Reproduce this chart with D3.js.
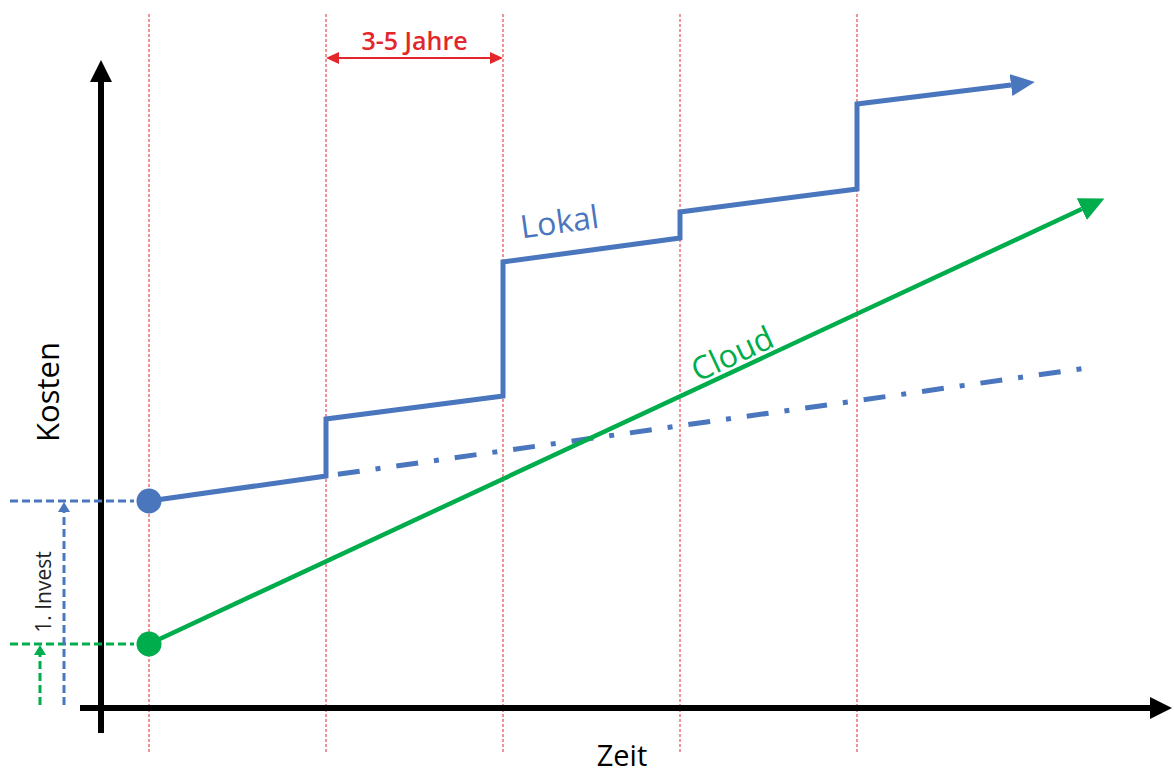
<!DOCTYPE html>
<html><head><meta charset="utf-8">
<script src="https://cdn.jsdelivr.net/npm/d3@7"></script>
<style>html,body{margin:0;padding:0;background:#fff;}svg{display:block;}</style>
</head><body>
<svg id="c" width="1174" height="776"></svg>
<script>
// ---- data (time in periods, cost in arbitrary units) ----
const periods = [0, 1, 2, 3, 4];                      // red dotted replacement cycles
const lokalT    = [0, 1, 1, 2, 2, 3, 3, 4, 4, 4.87];
const lokalCost = [20.7, 23.2, 28.9, 31.2, 44.6, 47.0, 49.6, 51.9, 60.4, 62.3];
const trendT    = [1, 5.3];
const trendCost = [23.2, 34.0];
const cloudT    = [0, 5.27];
const cloudCost = [6.4, 49.9];
const investLokal = 20.7, investCloud = 6.4;
const labels = {x: "Zeit", y: "Kosten", lokal: "Lokal", cloud: "Cloud", span: "3-5 Jahre", invest: "1. Invest"};

const blue = "#4a76bd", green = "#00ad4c", red = "#e3262b";
const font = "'Open Sans', 'Noto Sans', sans-serif";

const svg = d3.select("#c");
const x = d3.scaleLinear().domain([0, 1]).range([149, 326]);
const y = d3.scaleLinear().domain([0, 10]).range([708, 608]);

const defs = svg.append("defs");
function marker(id, color, len, half) {
  defs.append("marker").attr("id", id).attr("markerUnits", "userSpaceOnUse")
    .attr("viewBox", `0 ${-half} ${len} ${2*half}`).attr("refX", 0).attr("refY", 0)
    .attr("markerWidth", len).attr("markerHeight", 2*half).attr("orient", "auto-start-reverse")
    .append("path").attr("d", `M0,${-half}L${len},0L0,${half}Z`).attr("fill", color);
}
marker("aBlack", "#000", 22, 11);
marker("aBlue", blue, 24, 11);
marker("aGreen", green, 25, 12);
marker("aRed", red, 13, 6);
marker("aBlueS", blue, 10, 6);
marker("aGreenS", green, 10, 6);

// red dotted period lines
svg.append("g").selectAll("line").data(periods).join("line")
  .attr("x1", d => x(d)).attr("x2", d => x(d)).attr("y1", 14).attr("y2", 752)
  .attr("stroke", red).attr("stroke-width", 1).attr("stroke-dasharray", "3,2");

// span arrow 3-5 Jahre
svg.append("line").attr("x1", x(periods[1]) + 13).attr("x2", x(periods[2]) - 13)
  .attr("y1", 58).attr("y2", 58).attr("stroke", red).attr("stroke-width", 2)
  .attr("marker-start", "url(#aRed)").attr("marker-end", "url(#aRed)");
svg.append("text").attr("x", (x(periods[1]) + x(periods[2])) / 2).attr("y", 50)
  .attr("text-anchor", "middle").attr("font-family", font).attr("font-size", 25)
  .attr("font-weight", 600).attr("fill", red).text(labels.span);

// axes
svg.append("line").attr("x1", 101).attr("x2", 101).attr("y1", 733).attr("y2", 82)
  .attr("stroke", "#000").attr("stroke-width", 6).attr("marker-end", "url(#aBlack)");
svg.append("line").attr("x1", 80).attr("x2", 1150).attr("y1", y(0)).attr("y2", y(0))
  .attr("stroke", "#000").attr("stroke-width", 6).attr("marker-end", "url(#aBlack)");

// axis labels
svg.append("text").attr("x", 622).attr("y", 766).attr("text-anchor", "middle")
  .attr("font-family", font).attr("font-size", 29).attr("fill", "#000").text(labels.x);
svg.append("text").attr("transform", "translate(59,392) rotate(-90)").attr("text-anchor", "middle")
  .attr("font-family", font).attr("font-size", 31).attr("fill", "#000").text(labels.y);

// invest guides
svg.append("line").attr("x1", 10).attr("x2", 134).attr("y1", y(investLokal)).attr("y2", y(investLokal))
  .attr("stroke", blue).attr("stroke-width", 3).attr("stroke-dasharray", "8,4");
svg.append("line").attr("x1", 10).attr("x2", 134).attr("y1", y(investCloud)).attr("y2", y(investCloud))
  .attr("stroke", green).attr("stroke-width", 3).attr("stroke-dasharray", "8,4");
svg.append("line").attr("x1", 64).attr("x2", 64).attr("y1", y(0) - 3).attr("y2", y(investLokal) + 11)
  .attr("stroke", blue).attr("stroke-width", 3).attr("stroke-dasharray", "8,4")
  .attr("marker-end", "url(#aBlueS)");
svg.append("line").attr("x1", 40).attr("x2", 40).attr("y1", y(0) - 3).attr("y2", y(investCloud) + 11)
  .attr("stroke", green).attr("stroke-width", 3).attr("stroke-dasharray", "8,4")
  .attr("marker-end", "url(#aGreenS)");
svg.append("text").attr("transform", "translate(51,592) rotate(-90)").attr("text-anchor", "middle")
  .attr("font-family", font).attr("font-size", 21).attr("fill", "#222").text(labels.invest);

const line = d3.line().x(d => x(d[0])).y(d => y(d[1]));

// trend dash-dot
svg.append("path").datum(d3.zip(trendT, trendCost)).attr("d", line)
  .attr("fill", "none").attr("stroke", blue).attr("stroke-width", 5)
  .attr("stroke-dasharray", "22,16,5,16").attr("stroke-dashoffset", -12);

// cloud
svg.append("path").datum(d3.zip(cloudT, cloudCost)).attr("d", line)
  .attr("fill", "none").attr("stroke", green).attr("stroke-width", 4.5)
  .attr("marker-end", "url(#aGreen)");
svg.append("circle").attr("cx", x(cloudT[0])).attr("cy", y(cloudCost[0])).attr("r", 12.5).attr("fill", green);

// lokal
svg.append("path").datum(d3.zip(lokalT, lokalCost)).attr("d", line)
  .attr("fill", "none").attr("stroke", blue).attr("stroke-width", 5).attr("stroke-linejoin", "miter")
  .attr("marker-end", "url(#aBlue)");
svg.append("circle").attr("cx", x(lokalT[0])).attr("cy", y(lokalCost[0])).attr("r", 12.5).attr("fill", blue);

// series labels
svg.append("text").attr("transform", "translate(561,233) rotate(-8)").attr("text-anchor", "middle")
  .attr("font-family", font).attr("font-size", 32).attr("fill", blue).text(labels.lokal);
svg.append("text").attr("transform", "translate(737,364) rotate(-25)").attr("text-anchor", "middle")
  .attr("font-family", font).attr("font-size", 32).attr("fill", green).text(labels.cloud);
</script>
</body></html>
